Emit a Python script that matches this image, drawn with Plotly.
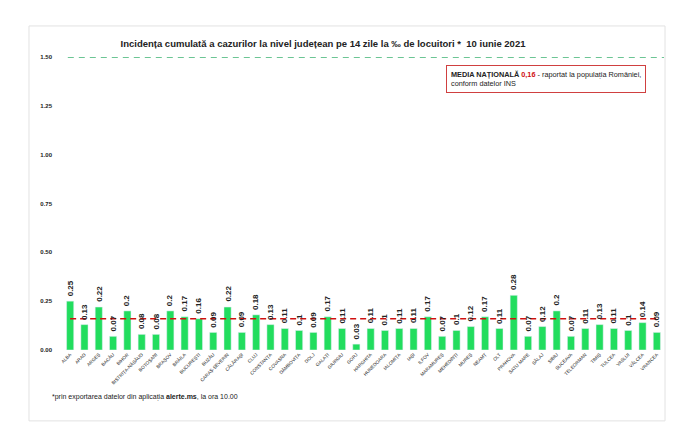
import plotly.graph_objects as go

counties = ["ALBA", "ARAD", "ARGEȘ", "BACĂU", "BIHOR", "BISTRIȚA-NĂSĂUD", "BOTOȘANI",
            "BRAȘOV", "BRĂILA", "BUCUREȘTI", "BUZĂU", "CARAȘ-SEVERIN", "CĂLĂRAȘI", "CLUJ",
            "CONSTANȚA", "COVASNA", "DÂMBOVIȚA", "DOLJ", "GALAȚI", "GIURGIU", "GORJ",
            "HARGHITA", "HUNEDOARA", "IALOMIȚA", "IAȘI", "ILFOV", "MARAMUREȘ", "MEHEDINȚI",
            "MUREȘ", "NEAMȚ", "OLT", "PRAHOVA", "SATU MARE", "SĂLAJ", "SIBIU", "SUCEAVA",
            "TELEORMAN", "TIMIȘ", "TULCEA", "VASLUI", "VÂLCEA", "VRANCEA"]
incidence = [0.25, 0.13, 0.22, 0.07, 0.2, 0.08, 0.08, 0.2, 0.17, 0.16, 0.09, 0.22, 0.09, 0.18,
             0.13, 0.11, 0.1, 0.09, 0.17, 0.11, 0.03, 0.11, 0.1, 0.11, 0.11, 0.17, 0.07, 0.1,
             0.12, 0.17, 0.11, 0.28, 0.07, 0.12, 0.2, 0.07, 0.11, 0.13, 0.11, 0.1, 0.14, 0.09]
national_mean = 0.16
threshold = 1.5
y_ticks = [0, 0.25, 0.5, 0.75, 1.0, 1.25, 1.5]

fig = go.Figure()
fig.add_trace(go.Bar(
    x=counties, y=incidence, marker_color="#22dd5e", width=0.5,
    showlegend=False,
))
fig.add_trace(go.Scatter(
    x=counties, y=[national_mean] * len(counties), mode="lines",
    line=dict(color="#d01010", width=1.7, dash="6px,4px"), showlegend=False,
))

# value labels, rotated vertically above each bar
for c, v in zip(counties, incidence):
    fig.add_annotation(
        x=c, y=v, xref="x", yref="y", text="<b>%g</b>" % v, textangle=-90,
        showarrow=False, xanchor="center", yanchor="bottom", yshift=3,
        font=dict(size=8, color="#222222", family="Liberation Sans"),
    )

fig.add_shape(type="line", xref="x domain", yref="y", x0=0.008, x1=1, y0=threshold, y1=threshold,
              line=dict(color="#3cb371", width=1.3, dash="6px,5px"))
# outer frame
fig.add_shape(type="rect", xref="paper", yref="paper", x0=-0.0566, x1=1.0017, y0=-0.242, y1=1.106,
              line=dict(color="#e2e2e2", width=1), layer="below")

fig.add_annotation(
    xref="paper", yref="paper", x=0.637, y=0.973, xanchor="left", yanchor="top",
    text="<b>MEDIA NAȚIONALĂ</b> <b><span style='color:#d01010'>0,16</span></b> - raportat la populația României,<br>conform datelor INS",
    showarrow=False, align="left", font=dict(size=7.3, color="#222222", family="Liberation Sans"),
    bordercolor="#d04040", borderwidth=1, borderpad=4, bgcolor="white",
)
fig.add_annotation(
    xref="paper", yref="paper", x=-0.0216, y=-0.16, xanchor="left", yanchor="middle",
    text="*prin exportarea datelor din aplicația <b>alerte.ms</b>, la ora 10.00",
    showarrow=False, font=dict(size=7, color="#222222", family="Liberation Sans"),
)

fig.update_layout(
    width=700, height=445,
    margin=dict(l=55, r=44, t=49, b=103),
    paper_bgcolor="white", plot_bgcolor="white",
    title=dict(text="<b>Incidența cumulată a cazurilor la nivel județean pe 14 zile la ‰ de locuitori *  10 iunie 2021</b>",
               x=0.45, xanchor="center", y=0.919, yanchor="middle",
               font=dict(size=9.5, color="#222222", family="Liberation Sans")),
    xaxis=dict(tickangle=-45, tickfont=dict(size=4.7, color="#222222", family="Liberation Sans"),
               showline=False, ticks="", range=[-0.5, 41.5]),
    yaxis=dict(range=[0, 1.5], tickvals=y_ticks,
               ticktext=["<b>%.2f</b>" % t for t in y_ticks],
               showgrid=False, zeroline=False,
               tickfont=dict(size=6, color="#222222", family="Liberation Sans"), ticks="",
               ticklabelstandoff=10),
    bargap=0.5,
)

fig.write_html("out.html")
